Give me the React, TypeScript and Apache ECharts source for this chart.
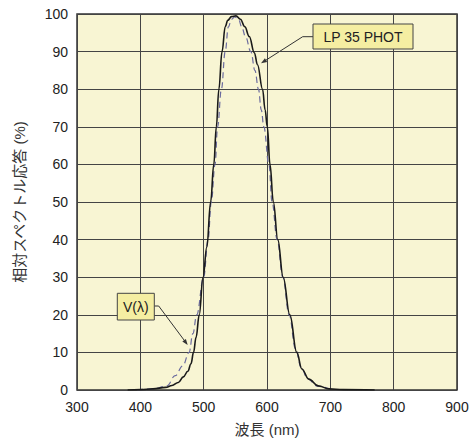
import React, { useEffect, useRef } from "react";
import * as echarts from "echarts";

const xTicks = [300, 400, 500, 600, 700, 800, 900];
const yTicks = [0, 10, 20, 30, 40, 50, 60, 70, 80, 90, 100];

const lp35Wavelength = [380, 400, 420, 440, 450, 460, 468, 475, 480, 484, 488, 493, 499, 505, 511, 516, 520, 524, 529, 534, 538, 544, 551, 558, 565, 572, 580, 585, 593, 597, 600.5, 604.7, 610, 617, 625.5, 636, 647, 655, 666, 681, 698, 720, 770];
const lp35Response = [0, 0.1, 0.3, 0.7, 1.2, 2, 3.5, 5, 7, 10, 14, 20, 30, 38, 50, 60, 70, 80, 90, 96.6, 98.3, 99.3, 99.5, 98.6, 96.6, 94, 89.7, 86.5, 80, 74.5, 70, 60, 50, 40, 30, 20, 10, 5.6, 2.9, 1.1, 0.3, 0.1, 0];

const vWavelength = [395, 421, 442, 455, 467, 477, 483, 489, 500, 507, 512, 518, 522, 528, 534, 539, 544, 549, 555, 560, 566, 574.5, 581, 586.5, 591, 595, 603, 608, 616, 625, 635, 645, 654, 664, 680, 700];
const vResponse = [0, 0.3, 1.1, 3.8, 6.4, 10, 15, 20, 30, 40, 50, 60, 70, 80, 90, 96.6, 98.6, 99.2, 98.7, 96.6, 94, 90, 85, 80, 74.5, 70, 60, 50, 40, 30, 20, 11, 6, 3, 1, 0.2];

const lp35Label = "LP 35 PHOT";
const vLabel = "V(λ)";
const xName = "波長 (nm)";
const yName = "相対スペクトル応答 (%)";

const FONT = "'Liberation Sans', Arial, 'Noto Sans CJK JP', sans-serif";

export default function App() {
  const ref = useRef<HTMLDivElement>(null);
  useEffect(() => {
    if (!ref.current) return;
    const chart = echarts.init(ref.current, undefined, { renderer: "svg" });
    const lp = lp35Wavelength.map((x, i) => [x, lp35Response[i]]);
    const vl = vWavelength.map((x, i) => [x, vResponse[i]]);
    chart.setOption({
      animation: false,
      textStyle: { fontFamily: FONT },
      grid: {
        left: 77,
        top: 14,
        right: 15,
        bottom: 51,
        show: true,
        backgroundColor: "#F8F5D3",
        borderColor: "#333",
        borderWidth: 1.5,
      },
      xAxis: {
        type: "value",
        min: 300,
        max: 900,
        interval: 100,
        name: xName,
        nameLocation: "middle",
        nameGap: 32,
        nameTextStyle: { fontSize: 15, color: "#333", fontFamily: FONT },
        axisLine: { show: false },
        axisTick: { show: false },
        axisLabel: { fontSize: 14, color: "#222", margin: 10, formatter: (v: number) => (xTicks.includes(v) ? String(v) : "") },
        splitLine: { show: true, lineStyle: { color: "#444", width: 1 } },
      },
      yAxis: {
        type: "value",
        min: 0,
        max: 100,
        interval: 10,
        name: yName,
        nameLocation: "middle",
        nameRotate: 90,
        nameGap: 50,
        nameTextStyle: { fontSize: 15, color: "#333", fontFamily: FONT },
        axisLine: { show: false },
        axisTick: { show: false },
        axisLabel: { fontSize: 14, color: "#222", margin: 9, formatter: (v: number) => (yTicks.includes(v) ? String(v) : "") },
        splitLine: { show: true, lineStyle: { color: "#444", width: 1 } },
      },
      series: [
        {
          type: "line",
          name: vLabel,
          data: vl,
          smooth: 0.4,
          smoothMonotone: "x",
          showSymbol: false,
          lineStyle: { color: "#6A6A9E", width: 1.2, type: [6, 4] },
          z: 2,
        },
        {
          type: "line",
          name: lp35Label,
          data: lp,
          smooth: 0.4,
          smoothMonotone: "x",
          showSymbol: false,
          lineStyle: { color: "#1A1A1A", width: 1.6 },
          z: 3,
        },
      ],
      graphic: [
        { type: "polyline", shape: { points: [[313, 36.7], [302.7, 36.7], [264, 61.4]] }, style: { stroke: "#333", lineWidth: 1, fill: null }, z: 10 },
        { type: "polygon", shape: { points: [[261, 63.3], [267.2, 61.9], [264.9, 58.2]] }, style: { fill: "#333" }, z: 10 },
        { type: "rect", shape: { x: 313, y: 24, width: 100, height: 25 }, style: { fill: "#F5EEA2", stroke: "#444", lineWidth: 1 }, z: 10 },
        { type: "text", style: { x: 363, y: 37, text: lp35Label, fill: "#222", font: `14px ${FONT}`, align: "center", verticalAlign: "middle" }, z: 11 },
        { type: "polyline", shape: { points: [[154.3, 306], [158.7, 306], [185.5, 342]] }, style: { stroke: "#333", lineWidth: 1, fill: null }, z: 10 },
        { type: "polygon", shape: { points: [[187.7, 345], [185.9, 338.9], [182.3, 341.5]] }, style: { fill: "#333" }, z: 10 },
        { type: "rect", shape: { x: 117.3, y: 293.3, width: 37, height: 26.7 }, style: { fill: "#F5EEA2", stroke: "#444", lineWidth: 1 }, z: 10 },
        { type: "text", style: { x: 135.8, y: 306.6, text: vLabel, fill: "#222", font: `14px ${FONT}`, align: "center", verticalAlign: "middle" }, z: 11 },
      ],
    });
    return () => chart.dispose();
  }, []);
  return <div ref={ref} style={{ position: "fixed", left: 0, top: 0, width: 472, height: 442, background: "#fff" }} />;
}
